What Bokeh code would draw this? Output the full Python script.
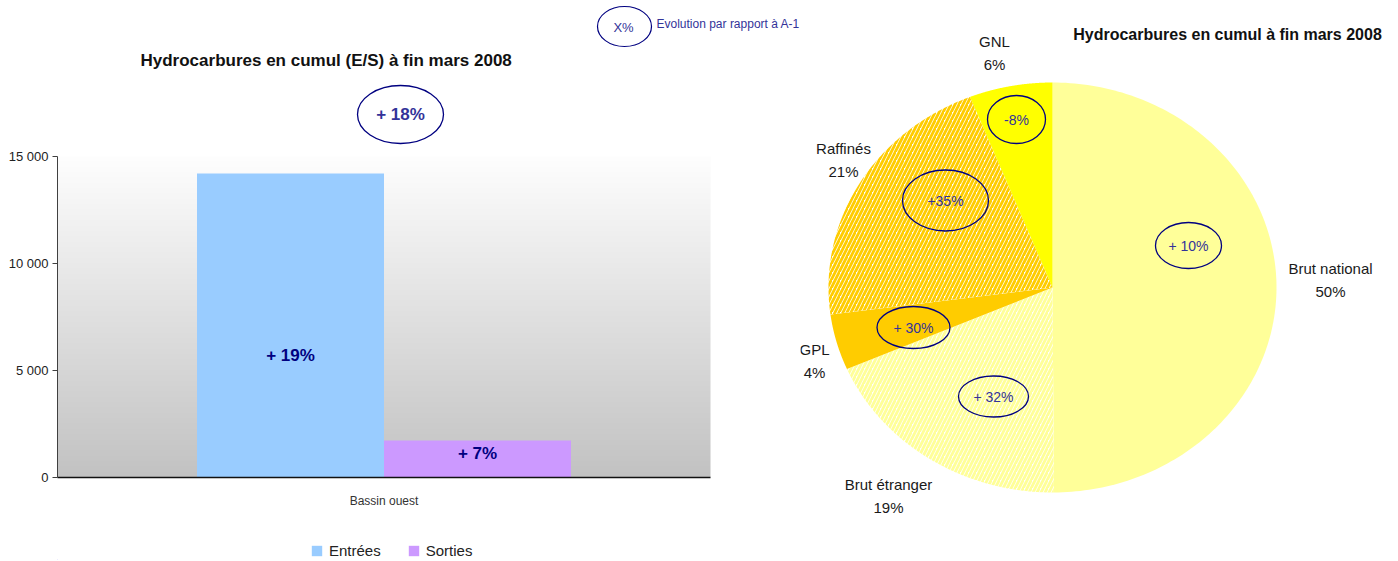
import numpy as np
from bokeh.plotting import figure
from bokeh.models import (Range1d, LinearAxis, FixedTicker, Label, Legend, LegendItem)
from bokeh.layouts import row, column
from bokeh.embed import file_html
from bokeh.resources import INLINE
from bokeh.core.properties import value

# ---------------- data ----------------
bar_category = "Bassin ouest"
bar_series = ["Entrées", "Sorties"]
bar_values = [14200, 1730]
bar_evolution = ["+ 19%", "+ 7%"]
total_evolution = "+ 18%"
y_ticks = [0, 5000, 10000, 15000]
y_tick_labels = ["0", "5 000", "10 000", "15 000"]

pie_names = ["Brut national", "Brut étranger", "GPL", "Raffinés", "GNL"]
pie_shares = [49.9, 18.6, 4.4, 21.1, 6.0]
pie_evolution = ["+ 10%", "+ 32%", "+ 30%", "+35%", "-8%"]

bar_title = "Hydrocarbures en cumul (E/S) à fin mars  2008"
pie_title = "Hydrocarbures en cumul à fin mars 2008"
unit_label = "(kt)"
legend_sample = "X%"
legend_text = "Evolution par rapport à A-1"

# ---------------- styles / layout ----------------
FONT = "Liberation Sans"
W1, W2 = 800, 590
H1, HL = 520, 40          # bar chart + legend strip
H2 = H1 + HL              # pie figure
bar_colors = ["#99CCFF", "#CC99FF"]
EVO_TEXT = "#333399"
EVO_LINE = "#000080"

# left chart geometry (picture pixels)
PX0, PX_CAT_END, PX_FRAME_END = 57, 710, 800
PY_ZERO, PY_TOP = 477, 0
PX_PER_CAT = PX_CAT_END - PX0
PY_PER_15K = 321.0
YMAX = (PY_ZERO - PY_TOP) / PY_PER_15K * 15000


def L(px, py):
    return (px - PX0) / PX_PER_CAT, (PY_ZERO - py) / PY_PER_15K * 15000


p1 = figure(width=W1, height=H1, output_backend="svg", toolbar_location=None,
            x_range=Range1d(0, (PX_FRAME_END - PX0) / PX_PER_CAT),
            y_range=Range1d(0, YMAX),
            x_axis_location=None, y_axis_location=None,
            min_border_left=PX0, min_border_right=0, min_border_top=0,
            min_border_bottom=H1 - PY_ZERO)
p1.grid.visible = False
p1.outline_line_color = None
p1.background_fill_color = "white"
p1.border_fill_color = "white"

# gradient plot-area background
n = 240
lev = np.linspace(0xC2, 0xFE, n).astype(np.uint8)
img = np.empty((n, 1), dtype=np.uint32)
view = img.view(dtype=np.uint8).reshape((n, 1, 4))
view[:, 0, 0] = lev
view[:, 0, 1] = lev
view[:, 0, 2] = lev
view[:, 0, 3] = 255
p1.image_rgba(image=[img], x=0, y=0, dw=1, dh=15000)

# bars
bw = 187 / PX_PER_CAT
bar_x = [0.5 - bw / 2, 0.5 + bw / 2]
for i, s in enumerate(bar_series):
    p1.vbar(x=bar_x[i], top=bar_values[i], bottom=0, width=bw,
            fill_color=bar_colors[i], line_color=None)

# bar evolution labels
bar_label_py = [355, 452.5]
p1.text(x=bar_x, y=[L(0, py)[1] for py in bar_label_py], text=bar_evolution,
        text_font=value(FONT), text_font_style="bold", text_font_size="17px",
        text_color="#000080", text_align="center", text_baseline="middle")

# total evolution ellipse
ex, ey = L(400, 114)
p1.ellipse(x=[ex], y=[ey], width=86, height=58, width_units="screen", height_units="screen",
           fill_color=None, line_color=EVO_LINE, line_width=1.3)
p1.text(x=[ex], y=[ey], text=[total_evolution], text_font=value(FONT), text_font_style="bold",
        text_font_size="17px", text_color=EVO_TEXT, text_align="center", text_baseline="middle")

# top-centre key
kx, ky = L(624, 26)
p1.ellipse(x=[kx], y=[ky], width=54, height=40, width_units="screen", height_units="screen",
           fill_color=None, line_color=EVO_LINE, line_width=1.2)
tx, ty = L(623, 27)
p1.text(x=[tx], y=[ty], text=[legend_sample], text_font=value(FONT), text_font_size="13px",
        text_color=EVO_TEXT, text_align="center", text_baseline="middle")
lx, ly = L(656, 23)
p1.text(x=[lx], y=[ly], text=[legend_text], text_font=value(FONT), text_font_size="12px",
        text_color=EVO_TEXT, text_align="left", text_baseline="middle")

# title and unit
ttx, tty = L(328, 60)
p1.text(x=[ttx], y=[tty], text=[bar_title], text_font=value(FONT), text_font_style="bold",
        text_font_size="17px", text_color="#111111", text_align="center", text_baseline="middle")
ux, uy = L(19, 56)
p1.add_layout(Label(x=ux, y=uy, text=unit_label, text_font=FONT, text_font_style="bold",
                    text_font_size="12px", text_color="#111111", text_align="center",
                    text_baseline="middle"))

# axes
yax = LinearAxis(ticker=FixedTicker(ticks=y_ticks), bounds=(0, 15000),
                 major_label_overrides={t: l for t, l in zip(y_ticks, y_tick_labels)})
yax.major_tick_in = 0
yax.major_tick_out = 5
yax.minor_tick_in = 0
yax.minor_tick_out = 0
yax.axis_line_color = "#404040"
yax.major_tick_line_color = "#404040"
yax.major_label_text_font = FONT
yax.major_label_text_font_size = "13px"
yax.major_label_text_color = "#222222"
yax.major_label_standoff = 4
p1.add_layout(yax, "left")

xax = LinearAxis(ticker=FixedTicker(ticks=[0.5]), bounds=(0, 1),
                 major_label_overrides={0.5: bar_category})
xax.major_tick_in = 0
xax.major_tick_out = 0
xax.minor_tick_in = 0
xax.minor_tick_out = 0
xax.axis_line_color = "#111111"
xax.axis_line_width = 1.5
xax.major_label_text_font = FONT
xax.major_label_text_font_size = "12px"
xax.major_label_text_color = "#333333"
xax.major_label_standoff = 16
p1.add_layout(xax, "below")

# legend strip under the bar chart (swatch renderers sit outside the visible range)
lf = figure(width=W1, height=HL, output_backend="svg", toolbar_location=None,
            x_range=Range1d(0, PX_FRAME_END - PX0), y_range=Range1d(0, HL),
            x_axis_location=None, y_axis_location=None,
            min_border_left=PX0, min_border_right=0, min_border_top=0, min_border_bottom=0)
lf.grid.visible = False
lf.outline_line_color = None
lf.border_fill_color = "white"
leg_renderers = [lf.vbar(x=[-1000], top=[1], bottom=[0], width=1, fill_color=c, line_color=None)
                 for c in bar_colors]
legend = Legend(items=[LegendItem(label=s, renderers=[r]) for s, r in zip(bar_series, leg_renderers)],
                orientation="horizontal", location=(310 - PX0, (H1 + HL - 551) - 8),
                padding=0, margin=0, spacing=26, label_standoff=6,
                glyph_width=13, glyph_height=13, label_height=16,
                border_line_color=None, background_fill_alpha=0,
                label_text_font=FONT, label_text_font_size="15px", label_text_color="#222222")
lf.add_layout(legend, "center")

# ---------------- pie ----------------
PCX, PCY, RX, RY = 1052, 287, 224, 205
P2X0 = W1


def P(px, py):
    return (px - PCX) / RX, (PCY - py) / RY


p2 = figure(width=W2, height=H2, output_backend="svg", toolbar_location=None,
            x_range=Range1d((P2X0 - PCX) / RX, (P2X0 + W2 - PCX) / RX),
            y_range=Range1d((PCY - H2) / RY, PCY / RY),
            x_axis_location=None, y_axis_location=None, min_border=0)
p2.grid.visible = False
p2.outline_line_color = None
p2.background_fill_color = "white"
p2.border_fill_color = "white"

pie_fill = ["#FFFF99", "#FFFFFF", "#FFCC00", "#FFFFFF", "#FFFF00"]
pie_hatch = [None, "/", None, "/", None]
pie_hatch_color = ["#FFFF99", "#FFFF99", "#FFCC00", "#FFCC00", "#FFFF00"]

shares = np.array(pie_shares, dtype=float)
frac = shares / shares.sum()
cum = np.cumsum(frac)
ends = np.pi / 2 - 2 * np.pi * cum
starts = np.pi / 2 - 2 * np.pi * (cum - frac)
for i in range(len(pie_names)):
    t = np.linspace(starts[i], ends[i], 160)
    xs = np.concatenate([[0.0], np.cos(t)])
    ys = np.concatenate([[0.0], np.sin(t)])
    kw = dict(fill_color=pie_fill[i], line_color=None)
    if pie_hatch[i]:
        kw.update(hatch_pattern=pie_hatch[i], hatch_color=pie_hatch_color[i],
                  hatch_scale=8, hatch_weight=2.8)
    p2.patch(xs, ys, **kw)

pct_labels = [f"{int(round(v * 100))}%" for v in frac]

# label block centres (picture px)
label_centres = [(1330, 279.5), (888, 495.5), (814, 360), (843, 159), (994, 52.5)]
name_xy = [P(cx, cy - 11.5) for cx, cy in label_centres]
pct_xy = [P(cx, cy + 11.5) for cx, cy in label_centres]
p2.text(x=[a for a, b in name_xy], y=[b for a, b in name_xy], text=pie_names,
        text_font=value(FONT), text_font_size="15px", text_color="#1a1a1a",
        text_align="center", text_baseline="middle")
p2.text(x=[a for a, b in pct_xy], y=[b for a, b in pct_xy], text=pct_labels,
        text_font=value(FONT), text_font_size="15px", text_color="#1a1a1a",
        text_align="center", text_baseline="middle")

# evolution ellipses
evo_centres = [(1188, 245), (993, 396), (913, 327), (945, 200), (1016, 119)]
evo_w = [66, 70, 73, 86, 58]
evo_h = [46, 41, 42, 61, 48]
exy = [P(cx, cy) for cx, cy in evo_centres]
p2.ellipse(x=[a for a, b in exy], y=[b for a, b in exy], width=evo_w, height=evo_h,
           width_units="screen", height_units="screen", fill_color=None,
           line_color=EVO_LINE, line_width=1.3)
p2.text(x=[a for a, b in exy], y=[b for a, b in exy], text=pie_evolution,
        text_font=value(FONT), text_font_size="14px", text_color=EVO_TEXT,
        text_align="center", text_baseline="middle")

ptx, pty = P(1227, 33.5)
p2.text(x=[ptx], y=[pty], text=[pie_title], text_font=value(FONT), text_font_style="bold",
        text_font_size="16px", text_color="#111111", text_align="center", text_baseline="middle")

layout = row(column(p1, lf), p2)
open("out.html", "w").write(file_html(layout, INLINE))
